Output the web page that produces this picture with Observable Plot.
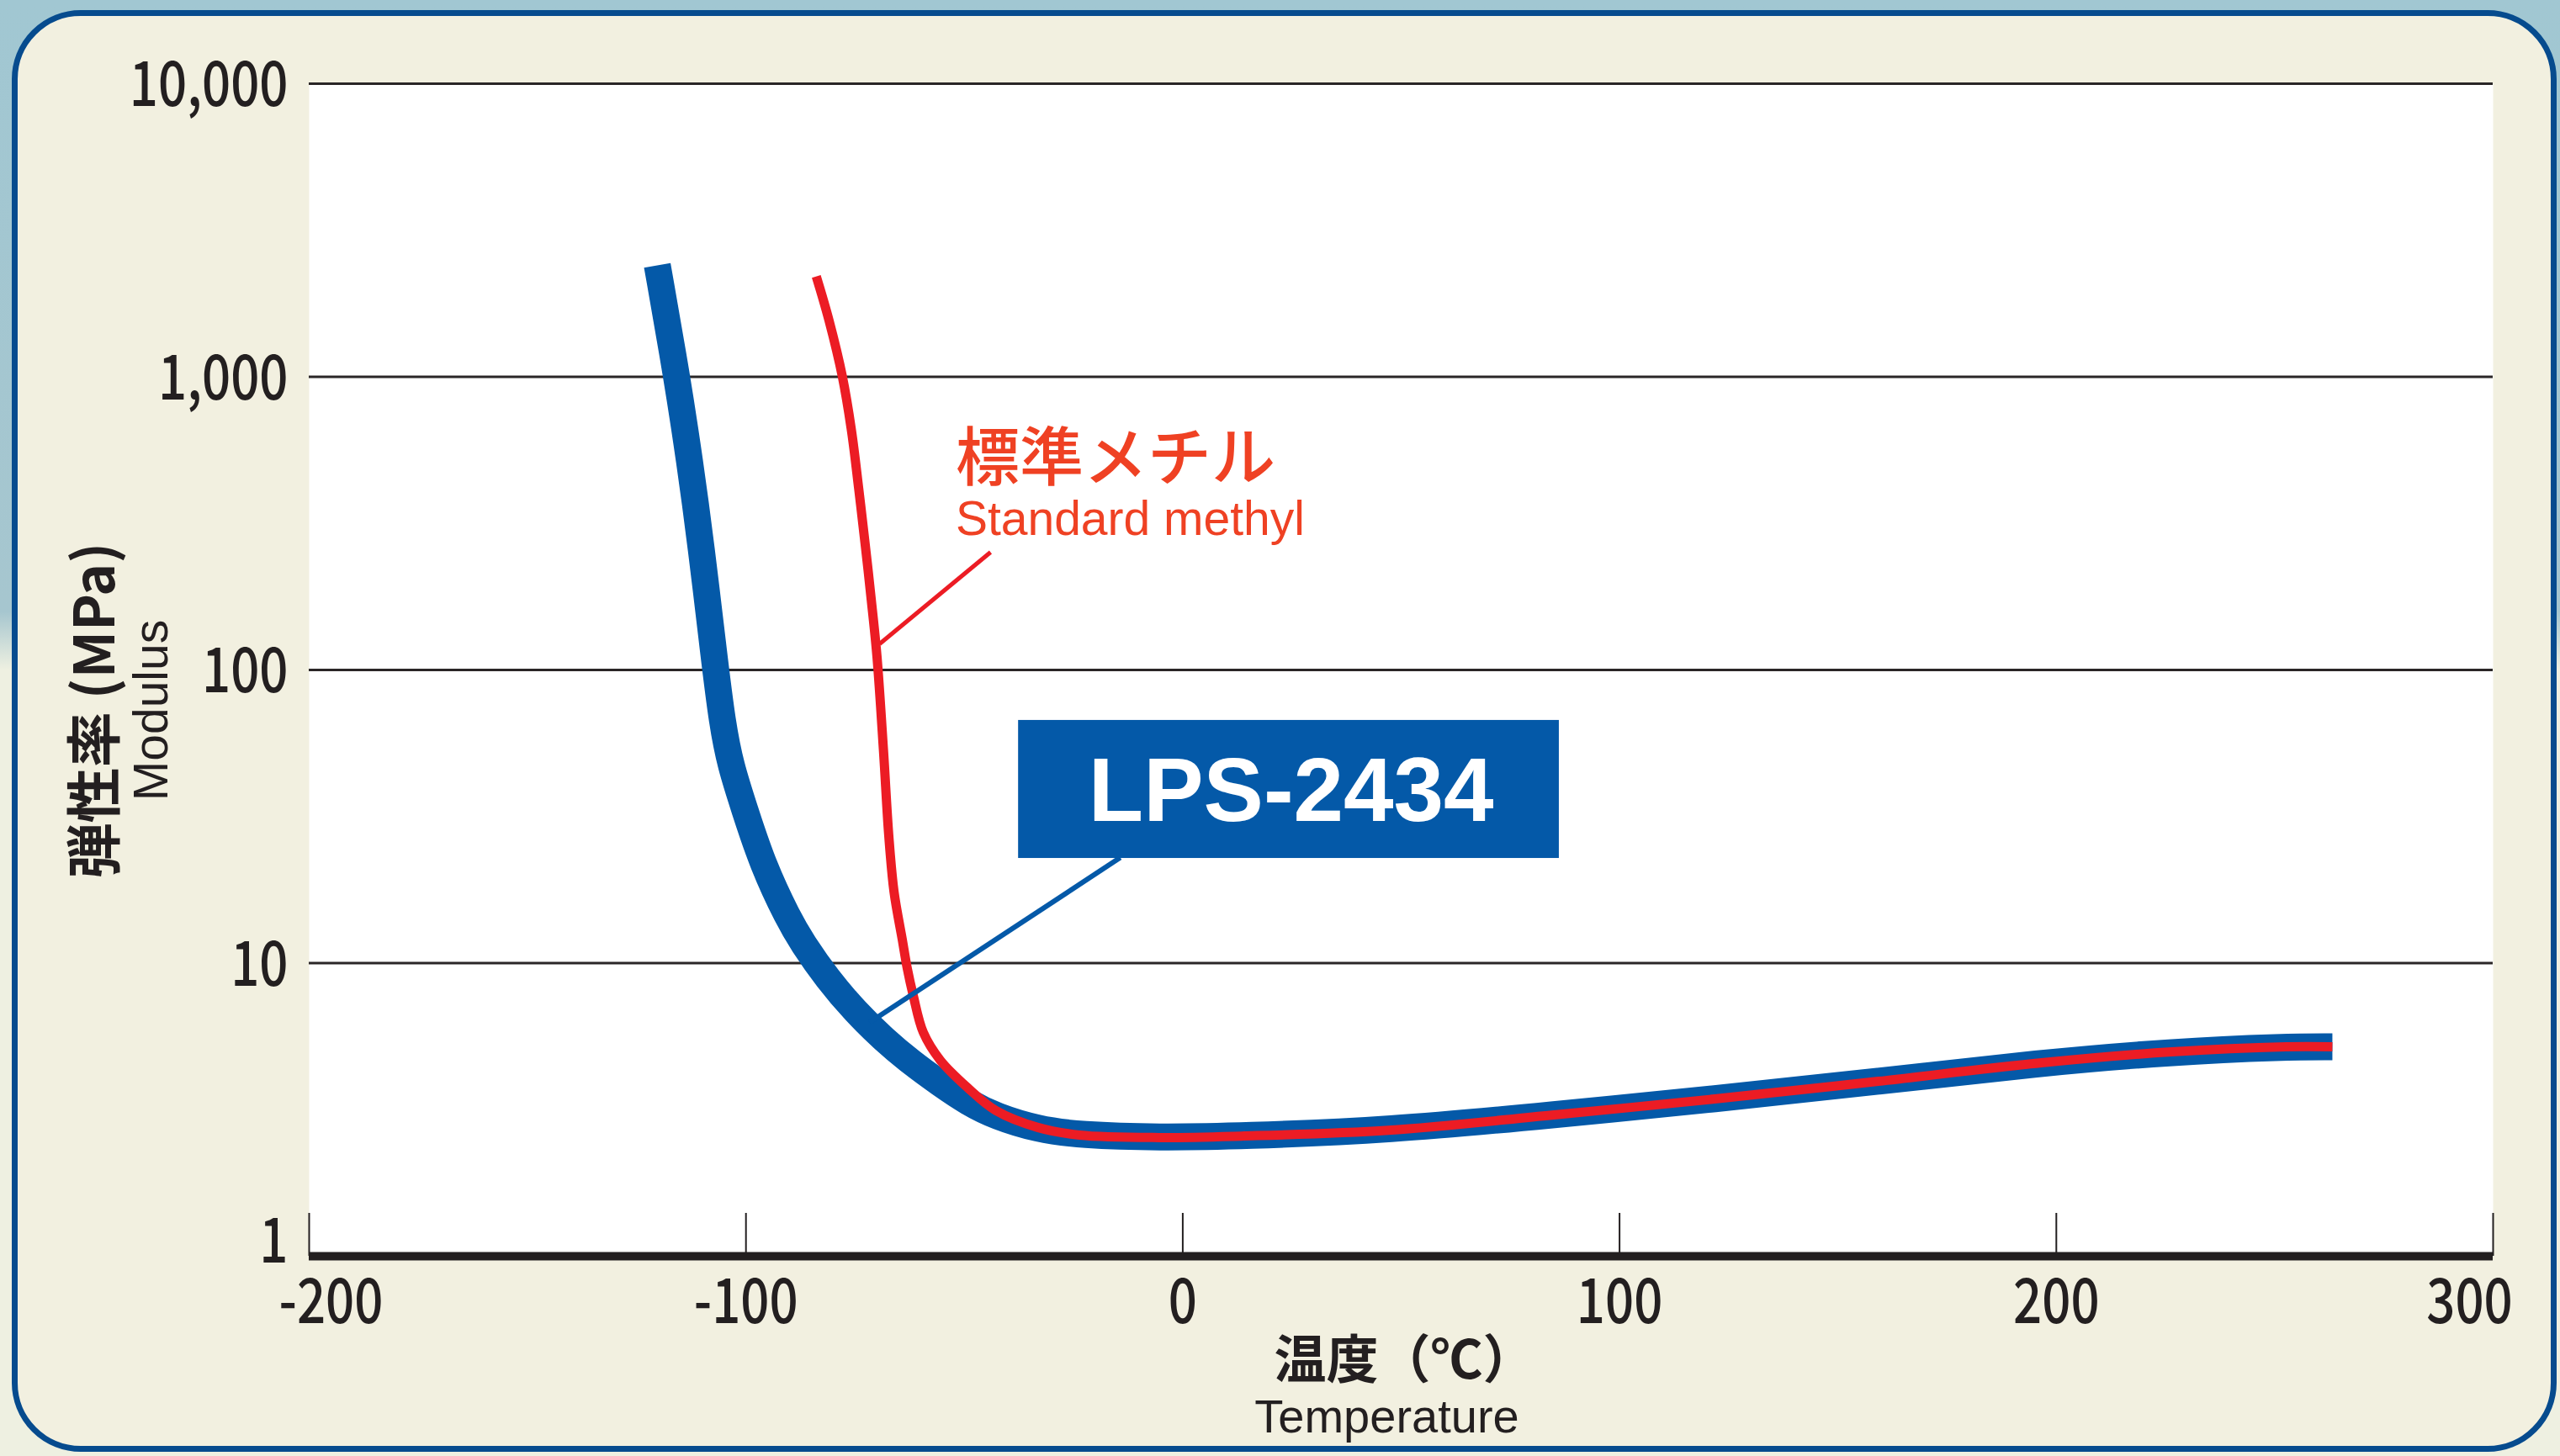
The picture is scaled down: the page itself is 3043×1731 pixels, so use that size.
<!DOCTYPE html>
<html>
<head>
<meta charset="utf-8">
<script src="https://cdn.jsdelivr.net/npm/d3@7"></script>
<script src="https://cdn.jsdelivr.net/npm/@observablehq/plot@0.6"></script>
<style>
  html, body { margin: 0; padding: 0; }
  body {
    width: 3043px; height: 1731px; overflow: hidden; position: relative;
    background: linear-gradient(180deg, #a1c7d2 0%, #a6c6cf 42%, #eef0e1 46%, #eef0e1 100%);
  }
  #panel {
    position: absolute; left: 14px; top: 12px; width: 3025px; height: 1714px;
    box-sizing: border-box; border: 7px solid #064b8e; border-radius: 82px;
    background: #f2f0e0;
  }
  #chart { position: absolute; left: 0; top: 0; }
</style>
</head>
<body>
<div id="panel"></div>
<div id="chart"></div>
<script>
// ---- data ----
const xTicks = [-200, -100, 0, 100, 200, 300];
const yTicks = [1, 10, 100, 1000, 10000];

const lpsTemp    = [-120.3, -115.8, -112.9, -110.3, -107.3, -105.4, -103.5, -100.4, -96.2, -90.2, -87.1, -81.4, -74.8, -68.5, -62.1, -55.5, -49.2, -42.8, -33.2, -23.6, -5.3, 13.4, 47.1, 84.5, 121.8, 159.2, 196.6, 226.4, 252.6, 263.2];
const lpsModulus = [2400, 1000, 518, 268, 111, 65.5, 47.1, 33.8, 21.7, 14.05, 11.76, 8.85, 6.79, 5.50, 4.57, 3.88, 3.35, 3.00, 2.71, 2.59, 2.54, 2.57, 2.69, 3.03, 3.44, 3.95, 4.57, 4.98, 5.18, 5.18];

const methylTemp    = [-83.9, -81.0, -77.9, -75.8, -74.2, -72.7, -71.3, -70.0, -68.5, -67.3, -66.1, -64.2, -63.1, -61.7, -59.4, -55.5, -49.2, -42.8, -33.2, -23.6, -5.3, 13.4, 47.1, 84.5, 121.8, 159.2, 196.6, 226.4, 252.6, 263.2];
const methylModulus = [2200, 1560, 997, 649, 417, 268, 173, 111, 52.7, 27.2, 17.5, 12.0, 9.64, 7.75, 5.80, 4.66, 3.75, 3.14, 2.75, 2.59, 2.54, 2.57, 2.69, 3.03, 3.44, 3.95, 4.57, 4.98, 5.18, 5.18];

const lpsName = "LPS-2434";
const methylNameJa = "標準メチル";
const methylNameEn = "Standard methyl";
const yTitleJa = "弾性率 (MPa)";
const yTitleEn = "Modulus";
const xTitleJa = "温度（℃）";
const xTitleEn = "Temperature";

// annotation anchors, in data units
const lpsBox = {x1: -37.6, x2: 86.2, y1: 22.76, y2: 67.3};
const lpsLabelPos = {x: 24.8, y: 38.2};
const lpsLeader = {x1: -71.7, y1: 6.28, x2: -14.3, y2: 22.9};
const methylLabelPos = {x: -52, yJa: 522, yEn: 325};
const methylLeader = {x1: -69.4, y1: 122.7, x2: -44.0, y2: 252.2};

// ---- tables ----
const lps = lpsTemp.map((t, i) => ({t, m: lpsModulus[i]}));
const methyl = methylTemp.map((t, i) => ({t, m: methylModulus[i]}));

// ---- styles ----
const W = 3043, H = 1731;
const mL = 367, mR = 80, mT = 99, mB = 238;
const plotH = H - mT - mB;
const blue = "#0459a8", red = "#ec1c24", redText = "#ef4123", ink = "#231f20";
const cjk = "'Noto Sans CJK JP', sans-serif";
const latin = "'Liberation Sans', Arial, sans-serif";
const numSize = 74;
const numStyle = {fontSize: numSize, fontFamily: cjk, fontWeight: 500, fill: ink};
const yFmt = d3.format(",");

const plot = Plot.plot({
  width: W, height: H,
  marginLeft: mL, marginRight: mR, marginTop: mT, marginBottom: mB,
  style: {background: "transparent", overflow: "visible"},
  x: {domain: [-200, 300], axis: null},
  y: {type: "log", domain: [1, 10000], axis: null},
  marks: [
    Plot.frame({fill: "white", stroke: "none"}),
    Plot.ruleY(yTicks.filter(d => d > 1), {stroke: "#2a2627", strokeWidth: 3}),
    Plot.ruleX(xTicks, {stroke: ink, strokeWidth: 2, insetTop: plotH - 51}),
    Plot.ruleY([1], {stroke: ink, strokeWidth: 10}),
    Plot.line(lps, {x: "t", y: "m", stroke: blue, strokeWidth: 32, curve: "basis", strokeLinecap: "butt", strokeLinejoin: "round"}),
    Plot.line(methyl, {x: "t", y: "m", stroke: red, strokeWidth: 11, curve: "catmull-rom", strokeLinecap: "butt", strokeLinejoin: "round"}),
    Plot.link([methylLeader], {x1: "x1", y1: "y1", x2: "x2", y2: "y2", stroke: red, strokeWidth: 5}),
    Plot.link([lpsLeader], {x1: "x1", y1: "y1", x2: "x2", y2: "y2", stroke: blue, strokeWidth: 6}),
    Plot.rect([lpsBox], {x1: "x1", x2: "x2", y1: "y1", y2: "y2", fill: blue}),
    Plot.text([lpsName], {x: () => lpsLabelPos.x, y: () => lpsLabelPos.y, text: d => d, fill: "white", fontSize: 107, fontWeight: "bold", fontFamily: latin, textAnchor: "middle"}),
    Plot.text([methylNameJa], {x: () => methylLabelPos.x, y: () => methylLabelPos.yJa, text: d => d, fill: redText, fontSize: 76, fontWeight: 500, fontFamily: cjk, textAnchor: "start"}),
    Plot.text([methylNameEn], {x: () => methylLabelPos.x, y: () => methylLabelPos.yEn, text: d => d, fill: redText, fontSize: 57, fontFamily: latin, textAnchor: "start"}),

    // y tick labels
    Plot.text(yTicks.filter(d => d > 1), {y: d => d, text: d => yFmt(d), frameAnchor: "left", textAnchor: "end", lineAnchor: "middle", dx: -25, dy: 3, ...numStyle}),
    Plot.text([1], {y: d => d, text: d => yFmt(d), frameAnchor: "left", textAnchor: "end", lineAnchor: "middle", dx: -25, dy: -16, ...numStyle}),
    // x tick labels
    Plot.text(xTicks.slice(1, -1), {x: d => d, text: d => String(d), frameAnchor: "bottom", textAnchor: "middle", lineAnchor: "top", dy: 27, ...numStyle}),
    Plot.text(xTicks.slice(0, 1), {x: d => d, text: d => String(d), frameAnchor: "bottom", textAnchor: "middle", lineAnchor: "top", dy: 27, dx: 26, ...numStyle}),
    Plot.text(xTicks.slice(-1), {x: d => d, text: d => String(d), frameAnchor: "bottom", textAnchor: "middle", lineAnchor: "top", dy: 27, dx: -28, ...numStyle}),

    // axis titles
    Plot.text([yTitleJa], {text: d => d, frameAnchor: "left", textAnchor: "middle", lineAnchor: "middle", rotate: -90, dx: -253, dy: 48, fontSize: 66, fontWeight: "bold", fontFamily: cjk, fill: ink}),
    Plot.text([yTitleEn], {text: d => d, frameAnchor: "left", textAnchor: "middle", lineAnchor: "middle", rotate: -90, dx: -187, dy: 48, fontSize: 57, fontFamily: latin, fill: ink}),
    Plot.text([xTitleJa], {text: d => d, frameAnchor: "bottom", textAnchor: "middle", lineAnchor: "middle", dx: 4, dy: 126, fontSize: 62, fontWeight: "bold", fontFamily: cjk, fill: ink}),
    Plot.text([xTitleEn], {text: d => d, frameAnchor: "bottom", textAnchor: "middle", lineAnchor: "middle", dx: -17, dy: 192, fontSize: 56, fontFamily: latin, fill: ink})
  ]
});

// condensed look for the numeric tick labels
const tickLabelSet = new Set([...yTicks.map(yFmt), ...xTicks.map(String)]);
plot.querySelectorAll("text").forEach(t => {
  if (!tickLabelSet.has(t.textContent)) return;
  const tr = t.getAttribute("transform");
  if (tr) {
    t.setAttribute("transform", tr + " scale(0.81,1)");
  } else {
    const x = t.getAttribute("x") || 0;
    t.removeAttribute("x");
    t.setAttribute("transform", `translate(${x},0) scale(0.81,1)`);
  }
});

document.getElementById("chart").append(plot);
</script>
</body>
</html>
